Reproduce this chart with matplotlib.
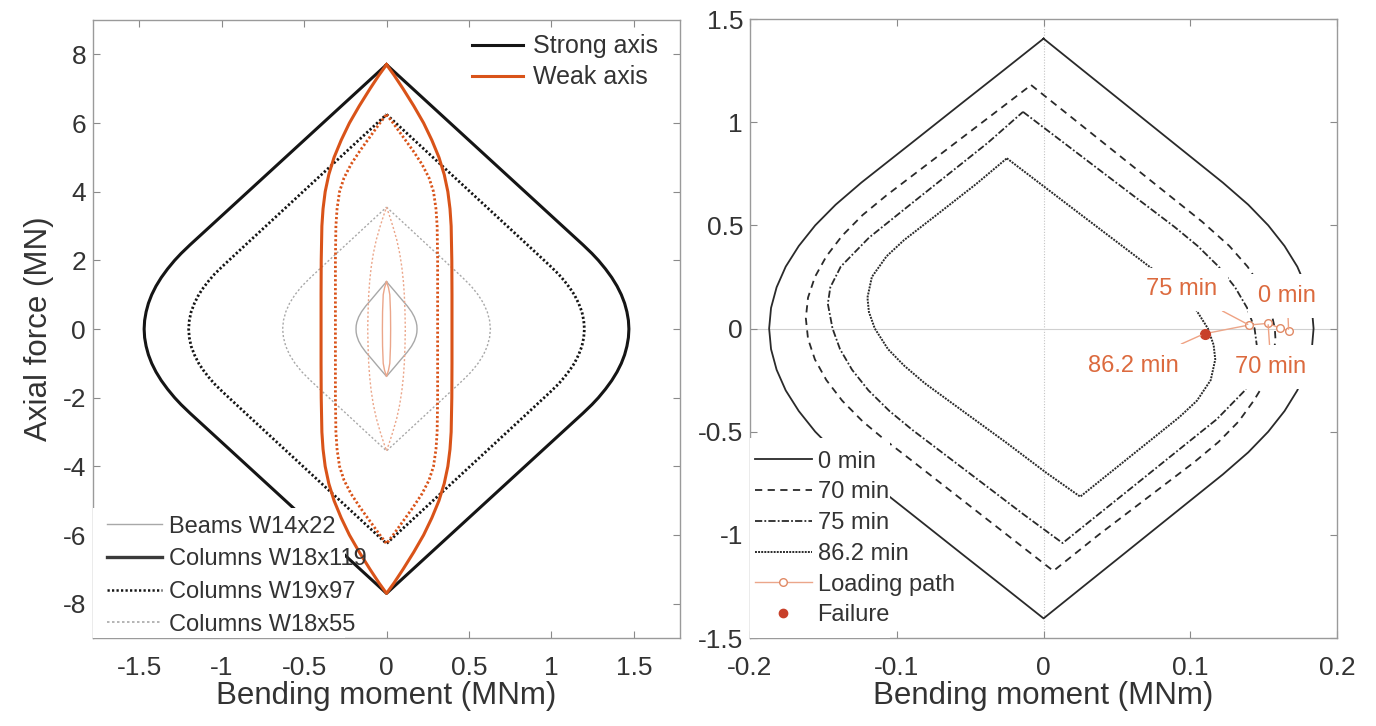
import numpy as np
import matplotlib
matplotlib.use('Agg')
import matplotlib.pyplot as plt
from matplotlib.patches import Rectangle
from matplotlib.lines import Line2D

plt.rcParams['font.family'] = ['Liberation Sans', 'DejaVu Sans']
plt.rcParams['axes.unicode_minus'] = False

# ---------------- Left panel: interaction curves, upper-right quarter (N>=0, M>=0)
# (curves are symmetric in M and N)
strong_W14x22_N = [1.38, 1.1, 0.9, 0.67, 0.5, 0.35, 0.2, 0.1, 0.0]
strong_W14x22_M = [0.0, 0.050, 0.085, 0.126, 0.152, 0.169, 0.180, 0.184, 0.185]
strong_W18x119_N = [7.7, 7.0, 6.0, 5.0, 4.0, 3.0, 2.45, 2.2, 2.0, 1.75, 1.5, 1.25, 1.0, 0.75, 0.5, 0.25, 0.0]
strong_W18x119_M = [0.0, 0.159, 0.386, 0.613, 0.840, 1.067, 1.192, 1.246, 1.285, 1.328, 1.366, 1.398, 1.424, 1.444, 1.458, 1.467, 1.47]
strong_W19x97_N = [6.25, 5.5, 4.5, 3.5, 2.5, 1.83, 1.6, 1.4, 1.2, 1.0, 0.75, 0.5, 0.25, 0.0]
strong_W19x97_M = [0.0, 0.169, 0.394, 0.619, 0.844, 0.994, 1.043, 1.079, 1.111, 1.139, 1.165, 1.185, 1.196, 1.2]
strong_W18x55_N = [3.55, 3.0, 2.5, 2.0, 1.5, 1.25, 1.0, 0.75, 0.5, 0.25, 0.0]
strong_W18x55_M = [0.0, 0.124, 0.236, 0.349, 0.461, 0.513, 0.555, 0.588, 0.611, 0.625, 0.63]

weak_W14x22_N = [1.38, 1.2, 1.0, 0.5, 0.0]
weak_W14x22_M = [0.0, 0.012, 0.020, 0.024, 0.025]
weak_W18x119_N = [7.7, 7.4, 7.0, 6.5, 6.0, 5.5, 5.0, 4.5, 4.0, 3.5, 3.0, 2.0, 1.0, 0.0]
weak_W18x119_M = [0.0, 0.045, 0.10, 0.165, 0.225, 0.275, 0.318, 0.35, 0.372, 0.385, 0.392, 0.396, 0.397, 0.397]
weak_W19x97_N = [6.25, 6.0, 5.6, 5.2, 4.8, 4.4, 4.0, 3.5, 3.0, 2.0, 1.0, 0.0]
weak_W19x97_M = [0.0, 0.04, 0.10, 0.16, 0.215, 0.258, 0.285, 0.30, 0.307, 0.31, 0.31, 0.31]
weak_W18x55_N = [3.55, 3.3, 3.0, 2.6, 2.2, 1.8, 1.4, 1.0, 0.5, 0.0]
weak_W18x55_M = [0.0, 0.018, 0.038, 0.062, 0.08, 0.093, 0.102, 0.108, 0.112, 0.114]

left_xticks = [-1.5, -1, -0.5, 0, 0.5, 1, 1.5]
left_xticklabels = ['-1.5', '-1', '-0.5', '0', '0.5', '1', '1.5']
left_yticks = [-8, -6, -4, -2, 0, 2, 4, 6, 8]

# ---------------- Right panel: reduced interaction curves at fire times
# right branch (top vertex -> bottom vertex), left branch (bottom -> top)
t0_R_N = [1.405, 1.25, 1.1, 0.9, 0.707, 0.6, 0.5, 0.4, 0.3, 0.2, 0.1, 0.0,
          -0.1, -0.2, -0.3, -0.4, -0.5, -0.6, -0.707, -0.9, -1.1, -1.25, -1.405]
t0_R_M = [0.0, 0.0271, 0.0534, 0.0884, 0.1222, 0.1395, 0.1531, 0.1642, 0.1729, 0.179, 0.1828, 0.184,
          0.1828, 0.179, 0.1729, 0.1642, 0.1531, 0.1395, 0.1222, 0.0884, 0.0534, 0.0271, 0.0]
t0_L_N = [-1.405, -1.25, -1.1, -0.9, -0.707, -0.6, -0.5, -0.4, -0.3, -0.2, -0.1, 0.0,
          0.1, 0.2, 0.3, 0.4, 0.5, 0.6, 0.707, 0.9, 1.1, 1.25, 1.405]
t0_L_M = [0.0, -0.0275, -0.0543, -0.0898, -0.1242, -0.1417, -0.1556, -0.1668, -0.1757, -0.1819, -0.1857, -0.187,
          -0.1857, -0.1819, -0.1757, -0.1668, -0.1556, -0.1417, -0.1242, -0.0898, -0.0543, -0.0275, 0.0]

t70_R_N = [1.18, 1.0, 0.8, 0.65, 0.518, 0.4, 0.3, 0.2, 0.1, 0.0, -0.05, -0.15, -0.25, -0.35, -0.45, -0.55, -0.647, -0.8, -1.0, -1.175]
t70_R_M = [-0.0085, 0.0232, 0.0584, 0.0848, 0.108, 0.1266, 0.139, 0.1483, 0.1545, 0.1576, 0.158, 0.1565, 0.1518, 0.1432, 0.133, 0.1192, 0.1028, 0.0745, 0.0375, 0.0067]
t70_L_N = [-1.175, -1.0, -0.8, -0.65, -0.533, -0.45, -0.35, -0.25, -0.15, -0.05, 0.05, 0.15, 0.25, 0.35, 0.45, 0.55, 0.645, 0.8, 1.0, 1.18]
t70_L_M = [0.0067, -0.0249, -0.061, -0.088, -0.1093, -0.1233, -0.1372, -0.148, -0.1558, -0.1605, -0.162, -0.1605, -0.1558, -0.148, -0.1372, -0.1233, -0.1071, -0.0785, -0.0416, -0.0085]

t75_R_N = [1.05, 0.9, 0.75, 0.6, 0.491, 0.4, 0.3, 0.2, 0.1, 0.0, -0.12, -0.2, -0.3, -0.44, -0.6, -0.75, -0.9, -1.04]
t75_R_M = [-0.014, 0.0138, 0.0415, 0.0693, 0.0895, 0.105, 0.1193, 0.1305, 0.1387, 0.1438, 0.146, 0.1443, 0.1372, 0.118, 0.090, 0.0638, 0.0375, 0.013]
t75_L_N = [-1.04, -0.9, -0.75, -0.6, -0.491, -0.4, -0.3, -0.2, -0.1, 0.0, 0.12, 0.2, 0.3, 0.44, 0.6, 0.75, 0.9, 1.05]
t75_L_M = [0.013, -0.0138, -0.0415, -0.0693, -0.0895, -0.105, -0.1193, -0.1305, -0.1387, -0.1438, -0.147, -0.1453, -0.1382, -0.119, -0.091, -0.0645, -0.038, -0.014]

t862_R_N = [0.825, 0.7, 0.55, 0.4, 0.265, 0.18, 0.1, 0.0, -0.08, -0.15, -0.25, -0.35, -0.429, -0.55, -0.7, -0.815]
t862_R_M = [-0.025, -0.0019, 0.0258, 0.0536, 0.0786, 0.0927, 0.1031, 0.112, 0.1159, 0.117, 0.1139, 0.1045, 0.0926, 0.0714, 0.0451, 0.025]
t862_L_N = [-0.815, -0.7, -0.55, -0.4, -0.265, -0.18, -0.1, 0.0, 0.08, 0.15, 0.25, 0.35, 0.429, 0.55, 0.7, 0.825]
t862_L_M = [0.025, 0.002, -0.026, -0.055, -0.081, -0.095, -0.106, -0.115, -0.119, -0.120, -0.117, -0.107, -0.095, -0.073, -0.046, -0.025]

path_M = [0.167, 0.161, 0.153, 0.140, 0.110]
path_N = [-0.010, 0.002, 0.025, 0.017, -0.025]
failure_M = [0.110]
failure_N = [-0.025]

time_labels = ['0 min', '70 min', '75 min', '86.2 min']
label_xy = [(0.166, 0.157), (0.155, -0.187), (0.094, 0.19), (0.061, -0.18)]
label_target = [(0.167, -0.010), (0.153, 0.025), (0.140, 0.017), (0.108, -0.030)]

right_xticks = [-0.2, -0.1, 0, 0.1, 0.2]
right_xticklabels = ['-0.2', '-0.1', '0', '0.1', '0.2']
right_yticks = [-1.5, -1, -0.5, 0, 0.5, 1, 1.5]
right_yticklabels = ['-1.5', '-1', '-0.5', '0', '0.5', '1', '1.5']

# ---------------- styles
BLACK = '#151515'
GREY = '#a8a8a8'
ORANGE = '#D95319'
ORANGE_LIGHT = '#EBA68A'
CURVE = '#2a2a2a'
TXT = '#333333'
FRAME = '#9a9a9a'

fig = plt.figure(figsize=(13.76, 7.26), dpi=100)
axL = fig.add_axes([0.0676, 0.1212, 0.4266, 0.8512])
axR = fig.add_axes([0.5451, 0.1212, 0.4266, 0.8526])


def quad(ax, N, M, **kw):
    N = np.asarray(N, float)
    M = np.asarray(M, float)
    n_full = np.concatenate([N, -N[::-1][1:]])
    m_full = np.concatenate([M, M[::-1][1:]])
    xs = np.concatenate([m_full, -m_full[::-1]])
    ys = np.concatenate([n_full, n_full[::-1]])
    return ax.plot(xs, ys, solid_joinstyle='round', **kw)


# strong axis
quad(axL, strong_W14x22_N, strong_W14x22_M, color=GREY, lw=1.0, zorder=2)
quad(axL, strong_W18x119_N, strong_W18x119_M, color=BLACK, lw=2.2, zorder=2)
quad(axL, strong_W19x97_N, strong_W19x97_M, color=BLACK, lw=2.0, dashes=(0.8, 0.8), zorder=2)
quad(axL, strong_W18x55_N, strong_W18x55_M, color=GREY, lw=1.0, dashes=(1.5, 1.5), zorder=2)
# white box behind lower legend
axL.add_patch(Rectangle((0, 0), 0.43, 0.211, transform=axL.transAxes,
                        facecolor='white', edgecolor='none', zorder=3))
# weak axis
quad(axL, weak_W14x22_N, weak_W14x22_M, color=ORANGE_LIGHT, lw=1.0, zorder=4)
quad(axL, weak_W18x119_N, weak_W18x119_M, color=ORANGE, lw=2.2, zorder=4)
quad(axL, weak_W19x97_N, weak_W19x97_M, color=ORANGE, lw=2.0, dashes=(0.8, 0.8), zorder=4)
quad(axL, weak_W18x55_N, weak_W18x55_M, color=ORANGE_LIGHT, lw=1.0, dashes=(1.5, 1.5), zorder=4)

axL.set_xlim(-1.78, 1.78)
axL.set_ylim(-9, 9)
axL.set_xticks(left_xticks)
axL.set_xticklabels(left_xticklabels)
axL.set_yticks(left_yticks)
axL.set_xlabel('Bending moment (MNm)', fontsize=22.5, color=TXT, labelpad=1)
axL.set_ylabel('Axial force (MN)', fontsize=22.5, color=TXT, labelpad=6)

h_top = [Line2D([], [], color=BLACK, lw=2.2), Line2D([], [], color=ORANGE, lw=2.2)]
leg1 = axL.legend(h_top, ['Strong axis', 'Weak axis'], loc='upper left',
                  bbox_to_anchor=(0.6457, 0.977), frameon=False, fontsize=18,
                  handlelength=2.05, handletextpad=0.4, labelspacing=0.28,
                  borderpad=0, borderaxespad=0)
for t in leg1.get_texts():
    t.set_color(TXT)
axL.add_artist(leg1)
h_bot = [Line2D([], [], color=GREY, lw=1.0),
         Line2D([], [], color='#3a3a3a', lw=2.4),
         Line2D([], [], color=BLACK, lw=1.8, dashes=(0.9, 0.9)),
         Line2D([], [], color=GREY, lw=1.2, dashes=(1.5, 1.5))]
leg2 = axL.legend(h_bot, ['Beams W14x22', 'Columns W18x119', 'Columns W19x97', 'Columns W18x55'],
                  loc='lower left', bbox_to_anchor=(0.024, 0.004), frameon=False, fontsize=17,
                  handlelength=2.33, handletextpad=0.3, labelspacing=0.45,
                  borderpad=0, borderaxespad=0)
for t in leg2.get_texts():
    t.set_color(TXT)
leg2.set_zorder(6)

# ---------------- right panel
axR.axvline(0, color='#c4c4c4', lw=0.8, ls=(0, (1, 1.5)), zorder=1)
axR.axhline(0, color='#d0d0d0', lw=0.8, zorder=1)

def closed(ax, RN, RM, LN, LM, **kw):
    xs = list(RM) + list(LM[1:])
    ys = list(RN) + list(LN[1:])
    return ax.plot(xs, ys, **kw)

closed(axR, t0_R_N, t0_R_M, t0_L_N, t0_L_M, color=CURVE, lw=1.3, zorder=2)
closed(axR, t70_R_N, t70_R_M, t70_L_N, t70_L_M, color=CURVE, lw=1.3, dashes=(4, 3), zorder=2)
closed(axR, t75_R_N, t75_R_M, t75_L_N, t75_L_M, color=CURVE, lw=1.3, dashes=(4, 1.2, 1, 1.2), zorder=2)
closed(axR, t862_R_N, t862_R_M, t862_L_N, t862_L_M, color=CURVE, lw=1.4, dashes=(1, 0.6), zorder=2)

axR.add_patch(Rectangle((0, 0), 0.2385, 0.323, transform=axR.transAxes,
                        facecolor='white', edgecolor='none', zorder=3))

axR.plot(path_M, path_N, color=ORANGE_LIGHT, lw=1.0, zorder=4)
axR.plot(path_M[:4], path_N[:4], ls='none', marker='o', ms=5.5, mfc='white',
         mec='#E08A66', mew=1.0, zorder=5)
axR.plot(failure_M, failure_N, ls='none', marker='o', ms=7, color='#C8402A', zorder=6)

for lab, xy, tgt in zip(time_labels, label_xy, label_target):
    axR.annotate(lab, xy=tgt, xytext=xy, ha='center', va='center', fontsize=17,
                 color='#DC6A3E', zorder=7,
                 bbox=dict(boxstyle='square,pad=0.45', fc='white', ec='none'),
                 arrowprops=dict(arrowstyle='-', color='#EFA283', lw=1.0,
                                 shrinkA=0, shrinkB=1))

axR.set_xlim(-0.2, 0.2)
axR.set_ylim(-1.5, 1.5)
axR.set_xticks(right_xticks)
axR.set_xticklabels(right_xticklabels)
axR.set_yticks(right_yticks)
axR.set_yticklabels(right_yticklabels)
axR.set_xlabel('Bending moment (MNm)', fontsize=22.5, color=TXT, labelpad=1)

h_r = [Line2D([], [], color=CURVE, lw=1.3),
       Line2D([], [], color=CURVE, lw=1.3, dashes=(4, 3)),
       Line2D([], [], color=CURVE, lw=1.3, dashes=(4, 1.2, 1, 1.2)),
       Line2D([], [], color=CURVE, lw=1.4, dashes=(1, 0.6)),
       Line2D([], [], color=ORANGE_LIGHT, lw=1.0, marker='o', ms=5.5, mfc='white', mec='#E08A66'),
       Line2D([], [], ls='none', marker='o', ms=6, color='#C8402A')]
leg3 = axR.legend(h_r, ['0 min', '70 min', '75 min', '86.2 min', 'Loading path', 'Failure'],
                  loc='lower left', bbox_to_anchor=(0.0085, 0.019), frameon=False, fontsize=17,
                  handlelength=2.4, handletextpad=0.25, labelspacing=0.37,
                  borderpad=0, borderaxespad=0)
for t in leg3.get_texts():
    t.set_color(TXT)
leg3.set_zorder(8)

for ax in (axL, axR):
    ax.tick_params(direction='in', top=True, right=True, length=5, width=0.8,
                   color='#8a8a8a', labelcolor=TXT, labelsize=19)
    ax.tick_params(axis='x', pad=13)
    ax.tick_params(axis='y', pad=5)
    for s in ax.spines.values():
        s.set_color(FRAME)
        s.set_linewidth(1.0)

fig.savefig('out.png', dpi=100, facecolor='white')
